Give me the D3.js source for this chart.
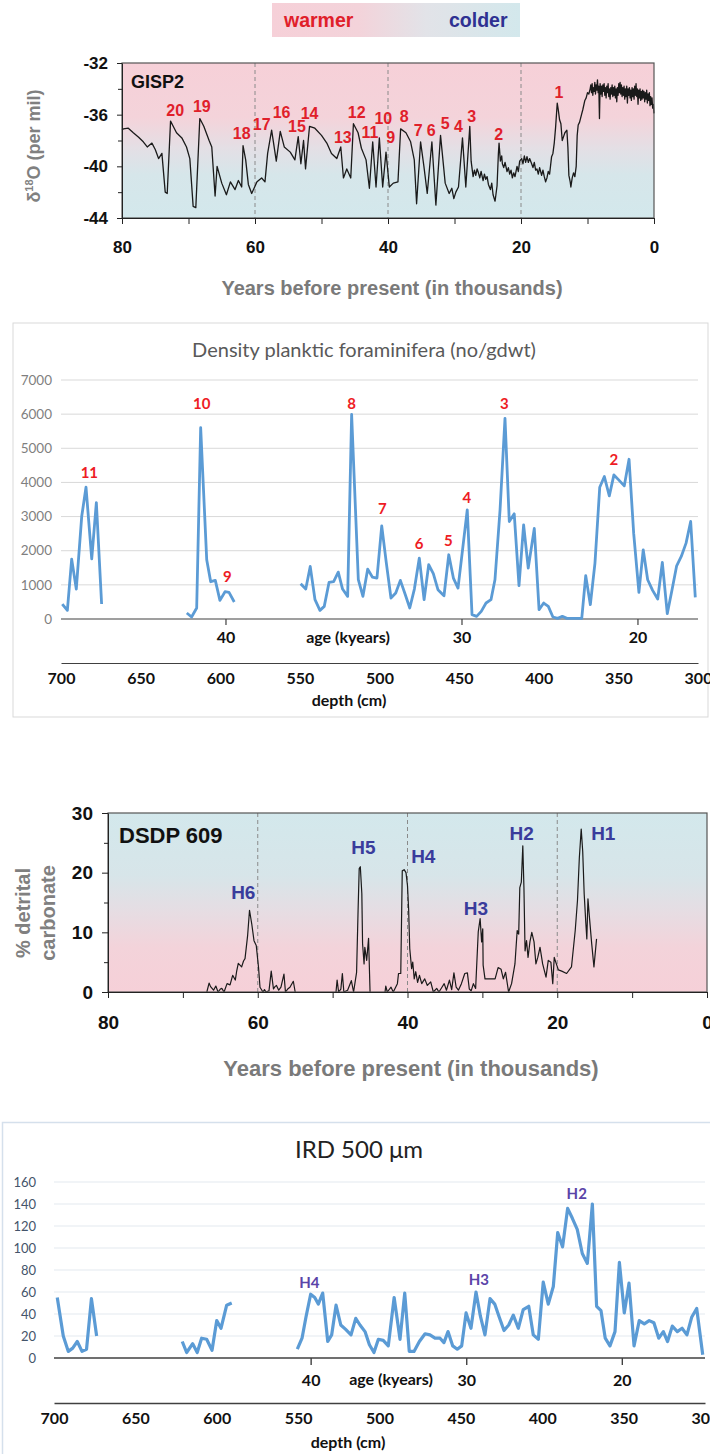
<!DOCTYPE html>
<html>
<head>
<meta charset="utf-8">
<script src="https://cdn.jsdelivr.net/npm/d3@7"></script>
<style>
  body { margin: 0; background: #fff; }
  svg { display: block; }
</style>
</head>
<body>
<svg id="chart" width="710" height="1454"></svg>
<script>
// ---------- GISP2 ice core: δ18O (per mil) against age (ka) ----------
const gispAge = [80.0,79.8,79.05,78.3,77.5,76.8,76.2,75.5,75.0,74.5,74.0,73.5,73.2,72.7,72.3,71.8,71.0,70.3,69.8,69.3,68.9,68.3,67.7,66.9,66.5,66.0,65.7,65.0,64.3,63.7,63.0,62.5,62.0,61.8,61.4,61.0,60.5,59.7,59.0,58.5,58.1,57.5,56.8,56.2,55.6,54.7,54.0,53.5,53.1,52.7,52.4,51.8,51.0,50.0,49.2,48.5,47.7,47.1,46.7,46.2,45.6,45.2,44.5,44.0,43.3,42.8,42.3,41.8,41.3,40.8,40.3,39.8,39.2,38.5,38.1,37.3,36.6,36.05,35.7,35.1,34.6,34.1,33.4,32.8,32.1,31.4,30.8,30.4,30.1,29.8,29.4,28.8,28.3,27.7,27.5,27.2,27.0,26.8,26.6,26.4,26.2,26.0,25.7,25.5,25.3,25.1,24.9,24.6,24.4,24.2,23.9,23.6,23.4,23.3,23.1,22.9,22.8,22.6,22.4,22.1,21.9,21.7,21.5,21.3,21.1,20.9,20.6,20.4,20.2,19.9,19.7,19.5,19.3,19.1,18.9,18.7,18.4,18.2,18.0,17.8,17.6,17.4,17.2,16.9,16.7,16.5,16.3,16.1,15.9,15.7,15.4,15.2,15.0,14.8,14.55,14.4,14.2,14.0,13.8,13.6,13.4,13.1,12.95,12.8,12.6,12.5,12.3,12.1,11.9,11.7,11.55,11.4,11.2,10.9,10.7,10.4,10.2,10.0,9.8,9.6,
  9.5,9.4,9.3,9.2,9.1,9.0,8.9,8.8,8.7,8.6,8.5,8.4,8.3,8.2,8.1,8.0,7.9,7.8,7.7,7.6,7.5,7.4,7.3,7.2,7.1,7.0,6.9,6.8,6.7,6.6,6.5,6.4,6.3,6.2,6.1,6.0,5.9,5.8,5.7,5.6,5.5,5.4,5.3,5.2,5.1,5.0,4.9,4.8,4.7,4.6,4.5,4.4,4.3,4.2,4.1,4.0,3.9,3.8,3.7,3.6,3.5,3.4,3.3,3.2,3.1,3.0,2.9,2.8,2.7,2.6,2.5,2.4,2.3,2.2,2.1,2.0,1.9,1.8,1.7,1.6,1.5,1.4,1.3,1.2,1.1,1.0,0.9,0.8,0.7,0.6,0.5,0.4,0.3,0.2,0.1,0.0];
const gispD18O = [-37.2,-37.1,-37.05,-37.4,-37.75,-38.1,-38.5,-38.2,-38.7,-39.4,-39.0,-42.0,-42.1,-36.5,-36.9,-37.4,-37.8,-38.5,-39.4,-43.1,-43.2,-36.3,-36.9,-38.0,-38.5,-42.3,-40.0,-41.3,-42.2,-41.2,-41.8,-41.1,-41.6,-38.4,-39.5,-41.4,-42.1,-41.2,-40.9,-41.2,-39.0,-37.2,-39.6,-37.3,-38.5,-38.9,-39.5,-37.7,-39.8,-38.0,-40.2,-36.9,-37.05,-37.6,-38.2,-39.0,-39.4,-38.5,-40.9,-40.2,-40.9,-36.7,-37.4,-38.6,-39.5,-41.7,-38.1,-41.6,-37.8,-41.6,-38.9,-41.6,-41.3,-41.2,-37.1,-37.4,-38.1,-39.5,-42.9,-38.1,-40.0,-42.1,-38.1,-43.0,-37.6,-41.3,-42.1,-41.7,-42.5,-42.0,-41.6,-37.8,-41.6,-36.9,-39.6,-40.8,-40.3,-40.7,-40.2,-40.5,-40.9,-40.4,-41.1,-40.6,-41.0,-40.8,-41.4,-41.8,-41.3,-42.2,-42.7,-41.5,-39.0,-38.2,-39.6,-39.2,-39.8,-40.1,-39.7,-40.4,-40.1,-40.6,-40.3,-40.9,-40.5,-40.8,-40.0,-40.4,-39.6,-39.4,-39.8,-39.2,-39.7,-39.25,-39.7,-39.4,-39.8,-40.1,-39.7,-40.3,-40.2,-40.6,-40.1,-40.7,-40.3,-40.8,-41.2,-40.9,-40.4,-40.6,-39.25,-39.0,-38.2,-37.0,-35.1,-35.6,-36.4,-36.7,-38.0,-37.7,-37.4,-37.2,-38.5,-40.7,-41.2,-41.6,-40.9,-40.5,-40.8,-40.0,-37.6,-36.8,-36.6,-36.0,-35.6,-34.9,-34.7,-34.3,-34.4,-34.0,
  -33.7,-34.3,-33.6,-34.5,-33.9,-34.2,-33.5,-34.4,-33.7,-34.1,-33.3,-34.3,-33.8,-36.3,-33.6,-34.4,-33.8,-34.6,-33.7,-34.2,-33.6,-34.5,-33.9,-34.7,-33.8,-34.3,-33.6,-34.6,-34.0,-34.8,-33.9,-34.4,-33.7,-34.6,-33.9,-34.5,-33.8,-34.7,-34.0,-35.0,-33.9,-34.5,-33.6,-34.3,-33.5,-34.4,-33.7,-34.6,-33.9,-34.5,-33.8,-34.8,-34.0,-34.6,-33.8,-35.1,-34.0,-34.5,-33.9,-34.7,-34.1,-34.9,-33.9,-34.6,-34.0,-34.8,-33.8,-34.5,-33.6,-34.6,-34.0,-35.2,-34.1,-34.7,-34.0,-34.9,-34.2,-34.8,-34.1,-34.7,-34.2,-35.0,-34.3,-34.8,-34.1,-35.1,-34.4,-34.9,-34.3,-35.3,-34.6,-35.2,-34.7,-35.5,-35.2,-35.9];
const gispYTicks = [-32, -36, -40, -44];
const gispYMinor = [-34, -38, -42];
const ageTicks = [80, 60, 40, 20, 0];
const ageMinor = [70, 50, 30, 10];
const ageDashes = [60, 40, 20];
// interstadial numbers, anchored in (age, δ18O)
const gispEventText = ["20","19","18","17","16","15","14","13","12","11","10","9","8","7","6","5","4","3","2","1"];
const gispEventAge  = [72.0,68.0,62.0,59.0,56.0,53.7,51.8,46.8,44.7,42.7,40.7,39.6,37.55,35.45,33.5,31.4,29.4,27.4,23.35,14.3];
const gispEventVal  = [-35.64,-35.38,-37.44,-36.72,-35.85,-36.93,-35.89,-37.75,-35.85,-37.36,-36.32,-37.75,-36.10,-37.19,-37.24,-36.67,-36.93,-36.16,-37.50,-34.30];

// ---------- planktic foraminifera density against core depth ----------
const foramDepth = [699.2,696,693.3,690.4,687,684.3,680.7,677.8,674.5,null,
  621,618,614.8,612.3,608.5,606,603.1,600.2,597,594.5,591.2,null,
  549.5,546.3,543.5,540.5,537.4,534.7,531.7,528.8,525.9,523.2,520,517.5,513.3,510.4,507.4,504.5,501.6,498.6,495.7,492.8,489.8,486.9,484,481,478.1,475,472,469.1,466.2,463.3,459.5,456.5,453.6,450.7,447.8,444.9,441.9,439,436.1,433.1,430,427.5,424.3,421.2,418.5,415.4,412.4,409.5,406.6,402.8,399.8,396.9,394,391.1,388.1,385.2,382.3,379.3,376.4,373,370.5,367.6,364.7,361.7,358.8,355.7,352.8,349.8,346.3,343.3,340.4,337.1,334.4,331.6,328.5,325.3,322.4,319.3,316.3,313.4,310.5,307.5,304.6,301.7];
const foramDensity = [439,253,1754,877,3000,3860,1764,3411,439,null,
  175,58,322,5604,1735,1092,1131,546,800,780,497,null,
  1033,877,1540,565,253,370,1072,1092,1374,877,663,5990,1150,663,1462,1228,1199,2729,1637,614,760,1131,741,322,877,1784,565,1589,1326,858,682,1881,1199,906,2047,3197,127,78,224,468,565,1150,3197,5877,2856,3080,975,2758,1491,2651,273,468,370,58,19,78,19,19,19,19,1267,419,1637,3860,4172,3606,4220,4074,3899,4678,2515,780,2027,1150,838,585,1657,156,858,1559,1832,2222,2856,634];
const foramYTicks = [0,1000,2000,3000,4000,5000,6000,7000];
const depthTicks = [700,650,600,550,500,450,400,350,300];
const foramAgeLabels = ["40","30","20"];
const foramAgeDepth = [596.4, 448.2, 337.7];
const foramEventText  = ["11","10","9","8","7","6","5","4","3","2"];
const foramEventDepth = [682.2,611.6,595.6,517.5,498.2,475.2,456.8,445.1,421.6,352.9];
const foramEventVal   = [4276,6297,1230,6297,3222,2197,2284,3544,6297,4657];

// ---------- DSDP 609: % detrital carbonate against age (ka) ----------
const dsdpAge = [66.8,66.5,66.3,65.9,65.6,65.3,65.0,64.8,64.5,64.1,63.7,63.35,63.0,62.8,62.6,62.15,61.9,61.7,61.35,61.1,60.8,60.5,60.2,59.9,59.7,59.3,59.1,58.9,58.5,58.2,57.9,57.7,57.5,57.2,56.9,56.5,56.3,56.0,55.7,55.25,55.0,null,
  49.55,49.4,49.2,48.9,48.7,48.5,48.0,47.5,47.2,46.8,46.6,46.45,46.3,46.1,46.0,45.8,45.7,45.45,45.2,45.0,null,
  43.0,42.9,42.7,42.2,41.9,41.35,41.2,40.9,40.7,40.45,40.2,40.0,39.85,39.7,39.45,39.3,39.1,38.9,38.65,38.4,38.1,37.7,37.35,36.9,36.55,36.1,35.8,35.4,35.1,34.8,34.4,34.1,33.8,33.5,33.2,32.8,32.35,32.0,31.75,31.5,31.2,30.9,30.55,30.3,30.1,29.95,29.9,29.65,29.0,28.3,27.9,27.5,27.2,26.9,26.5,26.1,25.65,25.35,25.15,25.0,24.8,24.6,24.45,24.3,24.1,23.9,23.65,23.4,23.1,22.85,22.6,22.3,21.95,21.5,21.2,20.85,20.6,20.4,20.2,19.85,19.4,18.75,18.1,17.6,17.3,17.05,16.8,16.6,16.4,16.2,16.05,15.9,15.7,15.4,15.1,14.75];
const dsdpCarb = [0,1.5,0.9,0.3,1.0,0,0.5,0.6,0,1.4,1.2,2.8,2.0,3.6,4.8,4.2,5.2,5.6,9.5,13.7,11.4,8.6,7.8,4.2,0.8,0,0.4,0,0.2,3.5,0.5,0.9,1.1,0.3,0.8,3.0,0,0.5,0.8,1.8,0,null,
  0,2.0,0,0.5,3.1,0,0.3,1.9,0,3.3,13.7,20.7,21.0,16.5,8.1,4.7,7.5,5.3,9.0,0,null,
  0,1.0,0,0.8,0,1.4,3.1,3.1,20.3,20.5,20.0,17.8,13.9,7.3,3.9,5.0,2.2,3.4,1.6,2.8,1.4,2.2,1.1,1.7,0,0.6,0,0.8,1.4,0.3,2.0,0.4,3.2,0.8,0.3,1.4,3.1,3.2,0.5,0.2,1.4,0.6,10.1,12.3,8.4,10.6,4.5,2.2,2.2,2.2,4.1,3.8,2.2,3.3,0,1.4,4.7,10.3,9.7,17.5,18.4,24.5,17.5,6.9,8.6,5.8,8.4,10.0,8.4,4.7,5.8,7.5,4.7,2.5,5.3,5.0,1.4,5.8,5.0,3.7,3.5,3.1,4.2,10.3,15.3,22.5,27.3,23.6,16.4,11.9,8.9,15.6,12.5,8.1,4.2,8.9];
const dsdpYTicks = [0, 10, 20, 30];
const dsdpYMinor = [5, 15, 25];
const dsdpEventText = ["H6","H5","H4","H3","H2","H1"];
const dsdpEventAge  = [61.93,45.9,37.89,30.85,24.75,13.85];
const dsdpEventVal  = [16.64,24.25,22.79,14.03,26.6,26.6];

// ---------- IRD > 500 µm against core depth ----------
const irdDepth = [698,694.3,691.2,688.5,685.7,682.8,680,677,673.8,null,
  621.2,618.5,614.8,612,609.3,606.2,602.9,600,597.4,593.9,590.8,null,
  550.5,547.6,545.2,542.3,539.8,537.6,534.9,531.8,529.4,526.7,523.8,520.8,517.5,514.6,512,508.9,506.2,503.4,500.7,497.7,494.6,491,487.4,484.5,481.7,478.8,475.5,472,469,465.9,462.8,460.4,457.9,455,452.2,449.5,446.8,443.8,440.7,438,435.2,432.1,429.2,426.4,423.5,420.6,417.8,414.7,411.7,408.3,405.5,402.4,399.4,396.3,393.2,390.5,387.5,384.4,381.5,378.5,375.4,372.3,369.2,366.6,363.9,361.3,358.4,355.3,352.6,349.6,346.7,343.6,340.4,337.3,334.3,331.4,328.4,325.6,323,320.1,317,314.1,311.1,308.2,305.1,301.4];
const irdCount = [55,20,6,9,15,6,8,54,20,null,
  15,5,13,5,18,17,7,34,27,48,50,null,
  8,18,37,58,55,49,59,15,21,48,30,26,21,36,30,24,12,5,17,16,11,55,17,59,6,6,15,22,21,18,18,14,24,11,8,11,41,27,60,38,21,54,49,37,25,30,39,27,44,47,21,17,69,49,65,114,101,136,127,117,95,86,140,47,43,18,11,24,87,41,68,11,34,31,34,32,18,24,15,29,24,27,21,37,45,3];
const irdYTicks = [0,20,40,60,80,100,120,140,160];
const irdAgeLabels = ["40","30","20"];
const irdAgeDepth = [542.0, 446.4, 350.8];
const irdEventText  = ["H4","H3","H2"];
const irdEventDepth = [543.1, 438.9, 378.8];
const irdEventVal   = [68.5, 71.5, 149.1];

// ======================================================================
const ARIAL = "'Liberation Sans', Arial, sans-serif";
const CALIBRI = "Lato, 'Open Sans', sans-serif";
const svg = d3.select('#chart');
const defs = svg.append('defs');

function gradient(id, stops, horizontal) {
  const g = defs.append('linearGradient').attr('id', id)
    .attr('x1', 0).attr('y1', 0)
    .attr('x2', horizontal ? 1 : 0).attr('y2', horizontal ? 0 : 1);
  stops.forEach(([o, c]) => g.append('stop').attr('offset', o).attr('stop-color', c));
}
const PINK = '#f6d0d8', BLUE = '#d3e8ec';
gradient('warmTop', [[0, PINK], [0.35, '#f4d3da'], [0.55, '#e4dfe5'], [0.72, '#d6e6ea'], [1, BLUE]]);
gradient('coldTop', [[0, BLUE], [0.35, '#d7e5e9'], [0.55, '#e6dde3'], [0.75, '#f3d3da'], [1, PINK]]);
gradient('legendBar', [[0, PINK], [0.35, '#f3d3da'], [0.62, '#e2e3e8'], [1, BLUE]], true);

function lineOf(xs, ys, xScale, yScale) {
  const idx = d3.range(xs.length);
  return d3.line()
    .defined(i => xs[i] != null && ys[i] != null)
    .x(i => xScale(xs[i]))
    .y(i => yScale(ys[i]))(idx);
}

function styleAxis(sel, font, size, weight, color) {
  sel.selectAll('text')
    .attr('font-family', font).attr('font-size', size)
    .attr('font-weight', weight).attr('fill', color);
  sel.selectAll('line').attr('stroke', '#222');
  sel.select('.domain').attr('stroke', '#222');
}

// ---------------- legend bar ----------------
svg.append('rect').attr('x', 272).attr('y', 3).attr('width', 248).attr('height', 34)
  .attr('fill', 'url(#legendBar)');
svg.append('text').attr('x', 284).attr('y', 20).attr('dy', '0.35em')
  .attr('font-family', ARIAL).attr('font-size', 19.5).attr('font-weight', 'bold')
  .attr('fill', '#e0202a').text('warmer');
svg.append('text').attr('x', 449).attr('y', 20).attr('dy', '0.35em')
  .attr('font-family', ARIAL).attr('font-size', 19.5).attr('font-weight', 'bold')
  .attr('fill', '#2e3192').text('colder');

// ---------------- GISP2 panel ----------------
{
  const x = d3.scaleLinear().domain([80, 0]).range([122, 654]);
  const y = d3.scaleLinear().domain([-32, -44]).range([63, 218]);
  const g = svg.append('g');
  g.append('rect').attr('x', x(80)).attr('y', y(-32))
    .attr('width', x(0) - x(80)).attr('height', y(-44) - y(-32))
    .attr('fill', 'url(#warmTop)');
  g.selectAll('.dash').data(ageDashes).join('line')
    .attr('x1', d => x(d)).attr('x2', d => x(d)).attr('y1', y(-32)).attr('y2', y(-44))
    .attr('stroke', '#8a8a8a').attr('stroke-width', 1).attr('stroke-dasharray', '4,3');
  g.append('path').attr('d', lineOf(gispAge, gispD18O, x, y))
    .attr('fill', 'none').attr('stroke', '#1a1a1a').attr('stroke-width', 1.3)
    .attr('stroke-linejoin', 'round');
  g.append('rect').attr('x', x(80)).attr('y', y(-32))
    .attr('width', x(0) - x(80)).attr('height', y(-44) - y(-32))
    .attr('fill', 'none').attr('stroke', '#555').attr('stroke-width', 1.2);

  const yAx = g.append('g').attr('transform', `translate(${x(80)},0)`)
    .call(d3.axisLeft(y).tickValues(gispYTicks).tickSize(5).tickSizeOuter(0)
      .tickPadding(9).tickFormat(d => String(d)));
  styleAxis(yAx, ARIAL, 17, 'bold', '#111');
  g.append('g').attr('transform', `translate(${x(80)},0)`)
    .call(d3.axisLeft(y).tickValues(gispYMinor).tickSize(4).tickSizeOuter(0).tickFormat(''))
    .call(s => s.select('.domain').remove()).selectAll('line').attr('stroke', '#222');

  const xAx = g.append('g').attr('transform', `translate(0,${y(-44)})`)
    .call(d3.axisBottom(x).tickValues(ageTicks).tickSize(6).tickSizeOuter(0)
      .tickPadding(17).tickFormat(d => String(d)));
  styleAxis(xAx, ARIAL, 17, 'bold', '#111');
  g.append('g').attr('transform', `translate(0,${y(-44)})`)
    .call(d3.axisBottom(x).tickValues(ageMinor).tickSize(6).tickSizeOuter(0).tickFormat(''))
    .call(s => s.select('.domain').remove()).selectAll('line').attr('stroke', '#222');

  g.append('text').attr('x', 131).attr('y', 82).attr('dy', '0.35em')
    .attr('font-family', ARIAL).attr('font-size', 18).attr('font-weight', 'bold')
    .attr('fill', '#111').text('GISP2');

  g.selectAll('.ev').data(gispEventText).join('text')
    .attr('x', (d, i) => x(gispEventAge[i])).attr('y', (d, i) => y(gispEventVal[i]))
    .attr('dy', '0.35em').attr('text-anchor', 'middle')
    .attr('font-family', ARIAL).attr('font-size', 16).attr('font-weight', 'bold')
    .attr('fill', '#e0202a').text(d => d);

  const yt = g.append('text').attr('transform', 'translate(40,146) rotate(-90)')
    .attr('text-anchor', 'middle').attr('font-family', ARIAL).attr('font-size', 18)
    .attr('font-weight', 'bold').attr('fill', '#808080');
  yt.append('tspan').text('δ');
  yt.append('tspan').attr('font-size', 11).attr('dy', -7).text('18');
  yt.append('tspan').attr('dy', 7).text('O (per mil)');

  g.append('text').attr('x', 392).attr('y', 288).attr('dy', '0.35em')
    .attr('text-anchor', 'middle').attr('font-family', ARIAL).attr('font-size', 20)
    .attr('font-weight', 'bold').attr('fill', '#7a7a7a')
    .text('Years before present (in thousands)');
}

// ---------------- foraminifera panel ----------------
{
  const x = d3.scaleLinear().domain([700, 300]).range([61, 698]);
  const y = d3.scaleLinear().domain([0, 7000]).range([619, 380]);
  const g = svg.append('g');
  g.append('rect').attr('x', 13).attr('y', 323).attr('width', 695).attr('height', 394)
    .attr('fill', '#fff').attr('stroke', '#d9d9d9').attr('stroke-width', 1);
  g.append('text').attr('x', 364).attr('y', 350).attr('dy', '0.35em')
    .attr('text-anchor', 'middle').attr('font-family', CALIBRI).attr('font-size', 20)
    .attr('fill', '#595959').text('Density planktic foraminifera (no/gdwt)');

  g.selectAll('.grid').data(foramYTicks.filter(d => d > 0)).join('line')
    .attr('x1', x(700)).attr('x2', x(300)).attr('y1', d => y(d)).attr('y2', d => y(d))
    .attr('stroke', '#d9d9d9').attr('stroke-width', 1);
  g.selectAll('.yl').data(foramYTicks).join('text')
    .attr('x', 52).attr('y', d => y(d)).attr('dy', '0.35em').attr('text-anchor', 'end')
    .attr('font-family', CALIBRI).attr('font-size', 13.5).attr('fill', '#7f7f7f')
    .text(d => d);

  // age axis sitting on the zero line
  g.append('line').attr('x1', x(700)).attr('x2', x(300)).attr('y1', y(0)).attr('y2', y(0))
    .attr('stroke', '#404040').attr('stroke-width', 1.2);
  g.selectAll('.at').data(foramAgeDepth).join('line')
    .attr('x1', d => x(d)).attr('x2', d => x(d)).attr('y1', y(0)).attr('y2', y(0) + 6)
    .attr('stroke', '#404040').attr('stroke-width', 1.2);
  g.selectAll('.al').data(foramAgeLabels).join('text')
    .attr('x', (d, i) => x(foramAgeDepth[i])).attr('y', 637).attr('dy', '0.35em')
    .attr('text-anchor', 'middle').attr('font-family', CALIBRI).attr('font-size', 16)
    .attr('font-weight', 'bold').attr('fill', '#111').text(d => d);
  g.append('text').attr('x', 348).attr('y', 637).attr('dy', '0.35em')
    .attr('text-anchor', 'middle').attr('font-family', CALIBRI).attr('font-size', 16)
    .attr('font-weight', 'bold').attr('fill', '#111').text('age (kyears)');

  // depth axis
  const dAx = g.append('g').attr('transform', 'translate(0,663)')
    .call(d3.axisBottom(x).tickValues(depthTicks).tickSize(0).tickSizeOuter(0).tickPadding(10));
  styleAxis(dAx, CALIBRI, 16, 'bold', '#111');
  dAx.select('.domain').attr('stroke', '#404040').attr('stroke-width', 1.2);
  g.append('text').attr('x', 349).attr('y', 700).attr('dy', '0.35em')
    .attr('text-anchor', 'middle').attr('font-family', CALIBRI).attr('font-size', 16)
    .attr('font-weight', 'bold').attr('fill', '#111').text('depth (cm)');

  g.append('path').attr('d', lineOf(foramDepth, foramDensity, x, y))
    .attr('fill', 'none').attr('stroke', '#5b9bd5').attr('stroke-width', 2.8)
    .attr('stroke-linejoin', 'round');

  g.selectAll('.ev').data(foramEventText).join('text')
    .attr('x', (d, i) => x(foramEventDepth[i])).attr('y', (d, i) => y(foramEventVal[i]))
    .attr('dy', '0.35em').attr('text-anchor', 'middle')
    .attr('font-family', CALIBRI).attr('font-size', 15).attr('font-weight', 'bold')
    .attr('fill', '#ee1c24').text(d => d);
}

// ---------------- DSDP 609 panel ----------------
{
  const x = d3.scaleLinear().domain([80, 0]).range([108, 707]);
  const y = d3.scaleLinear().domain([0, 30]).range([992, 813]);
  const g = svg.append('g');
  g.append('rect').attr('x', x(80)).attr('y', y(30))
    .attr('width', x(0) - x(80)).attr('height', y(0) - y(30))
    .attr('fill', 'url(#coldTop)');
  g.selectAll('.dash').data(ageDashes).join('line')
    .attr('x1', d => x(d)).attr('x2', d => x(d)).attr('y1', y(30)).attr('y2', y(0))
    .attr('stroke', '#8a8a8a').attr('stroke-width', 1).attr('stroke-dasharray', '4,3');
  g.append('path').attr('d', lineOf(dsdpAge, dsdpCarb, x, y))
    .attr('fill', 'none').attr('stroke', '#1a1a1a').attr('stroke-width', 1.2)
    .attr('stroke-linejoin', 'round');
  g.append('rect').attr('x', x(80)).attr('y', y(30))
    .attr('width', x(0) - x(80)).attr('height', y(0) - y(30))
    .attr('fill', 'none').attr('stroke', '#555').attr('stroke-width', 1.2);

  const yAx = g.append('g').attr('transform', `translate(${x(80)},0)`)
    .call(d3.axisLeft(y).tickValues(dsdpYTicks).tickSize(6).tickSizeOuter(0).tickPadding(9));
  styleAxis(yAx, ARIAL, 19, 'bold', '#111');
  g.append('g').attr('transform', `translate(${x(80)},0)`)
    .call(d3.axisLeft(y).tickValues(dsdpYMinor).tickSize(4).tickSizeOuter(0).tickFormat(''))
    .call(s => s.select('.domain').remove()).selectAll('line').attr('stroke', '#222');

  const xAx = g.append('g').attr('transform', `translate(0,${y(0)})`)
    .call(d3.axisBottom(x).tickValues(ageTicks).tickSize(6).tickSizeOuter(0).tickPadding(18));
  styleAxis(xAx, ARIAL, 19, 'bold', '#111');
  g.append('g').attr('transform', `translate(0,${y(0)})`)
    .call(d3.axisBottom(x).tickValues(ageMinor).tickSize(6).tickSizeOuter(0).tickFormat(''))
    .call(s => s.select('.domain').remove()).selectAll('line').attr('stroke', '#222');

  g.append('text').attr('x', 119).attr('y', 835).attr('dy', '0.35em')
    .attr('font-family', ARIAL).attr('font-size', 22).attr('font-weight', 'bold')
    .attr('fill', '#111').text('DSDP 609');

  g.selectAll('.ev').data(dsdpEventText).join('text')
    .attr('x', (d, i) => x(dsdpEventAge[i])).attr('y', (d, i) => y(dsdpEventVal[i]))
    .attr('dy', '0.35em').attr('text-anchor', 'middle')
    .attr('font-family', ARIAL).attr('font-size', 19).attr('font-weight', 'bold')
    .attr('fill', '#3a3c9c').text(d => d);

  g.append('text').attr('transform', 'translate(23,913) rotate(-90)')
    .attr('dy', '0.35em').attr('text-anchor', 'middle').attr('font-family', ARIAL)
    .attr('font-size', 20).attr('font-weight', 'bold').attr('fill', '#808080').text('% detrital');
  g.append('text').attr('transform', 'translate(48,913) rotate(-90)')
    .attr('dy', '0.35em').attr('text-anchor', 'middle').attr('font-family', ARIAL)
    .attr('font-size', 20).attr('font-weight', 'bold').attr('fill', '#808080').text('carbonate');

  g.append('text').attr('x', 411).attr('y', 1068).attr('dy', '0.35em')
    .attr('text-anchor', 'middle').attr('font-family', ARIAL).attr('font-size', 22)
    .attr('font-weight', 'bold').attr('fill', '#7a7a7a')
    .text('Years before present (in thousands)');
}

// ---------------- IRD panel ----------------
{
  const x = d3.scaleLinear().domain([700, 300]).range([54, 705]);
  const y = d3.scaleLinear().domain([0, 160]).range([1358, 1182]);
  const g = svg.append('g');
  g.append('rect').attr('x', 2.5).attr('y', 1122.5).attr('width', 712).attr('height', 340)
    .attr('fill', '#fff').attr('stroke', '#d5e0ec').attr('stroke-width', 1.5);
  g.append('text').attr('x', 359).attr('y', 1150).attr('dy', '0.35em')
    .attr('text-anchor', 'middle').attr('font-family', CALIBRI).attr('font-size', 24)
    .attr('fill', '#222').text('IRD 500 μm');

  g.selectAll('.grid').data(irdYTicks.filter(d => d > 0)).join('line')
    .attr('x1', x(700)).attr('x2', x(300)).attr('y1', d => y(d)).attr('y2', d => y(d))
    .attr('stroke', '#e4e9ef').attr('stroke-width', 1.2);
  g.selectAll('.yl').data(irdYTicks).join('text')
    .attr('x', 36).attr('y', d => y(d)).attr('dy', '0.35em').attr('text-anchor', 'end')
    .attr('font-family', CALIBRI).attr('font-size', 13).attr('fill', '#44546a')
    .text(d => d);

  g.append('line').attr('x1', x(700)).attr('x2', x(300)).attr('y1', y(0)).attr('y2', y(0))
    .attr('stroke', '#404040').attr('stroke-width', 1.4);
  g.selectAll('.at').data(irdAgeDepth).join('line')
    .attr('x1', d => x(d)).attr('x2', d => x(d)).attr('y1', y(0)).attr('y2', y(0) + 7)
    .attr('stroke', '#404040').attr('stroke-width', 1.4);
  g.selectAll('.al').data(irdAgeLabels).join('text')
    .attr('x', (d, i) => x(irdAgeDepth[i])).attr('y', 1380).attr('dy', '0.35em')
    .attr('text-anchor', 'middle').attr('font-family', CALIBRI).attr('font-size', 16)
    .attr('font-weight', 'bold').attr('fill', '#111').text(d => d);
  g.append('text').attr('x', 391).attr('y', 1379).attr('dy', '0.35em')
    .attr('text-anchor', 'middle').attr('font-family', CALIBRI).attr('font-size', 16)
    .attr('font-weight', 'bold').attr('fill', '#111').text('age (kyears)');

  const dAx = g.append('g').attr('transform', 'translate(0,1403)')
    .call(d3.axisBottom(x).tickValues(depthTicks).tickSize(0).tickSizeOuter(0).tickPadding(10));
  styleAxis(dAx, CALIBRI, 16, 'bold', '#111');
  dAx.select('.domain').attr('stroke', '#404040').attr('stroke-width', 1.4);
  g.append('text').attr('x', 348).attr('y', 1442).attr('dy', '0.35em')
    .attr('text-anchor', 'middle').attr('font-family', CALIBRI).attr('font-size', 16)
    .attr('font-weight', 'bold').attr('fill', '#111').text('depth (cm)');

  g.append('path').attr('d', lineOf(irdDepth, irdCount, x, y))
    .attr('fill', 'none').attr('stroke', '#5b9bd5').attr('stroke-width', 3.2)
    .attr('stroke-linejoin', 'round');

  g.selectAll('.ev').data(irdEventText).join('text')
    .attr('x', (d, i) => x(irdEventDepth[i])).attr('y', (d, i) => y(irdEventVal[i]))
    .attr('dy', '0.35em').attr('text-anchor', 'middle')
    .attr('font-family', CALIBRI).attr('font-size', 15).attr('font-weight', 'bold')
    .attr('fill', '#5a44a8').text(d => d);
}
</script>
</body>
</html>
